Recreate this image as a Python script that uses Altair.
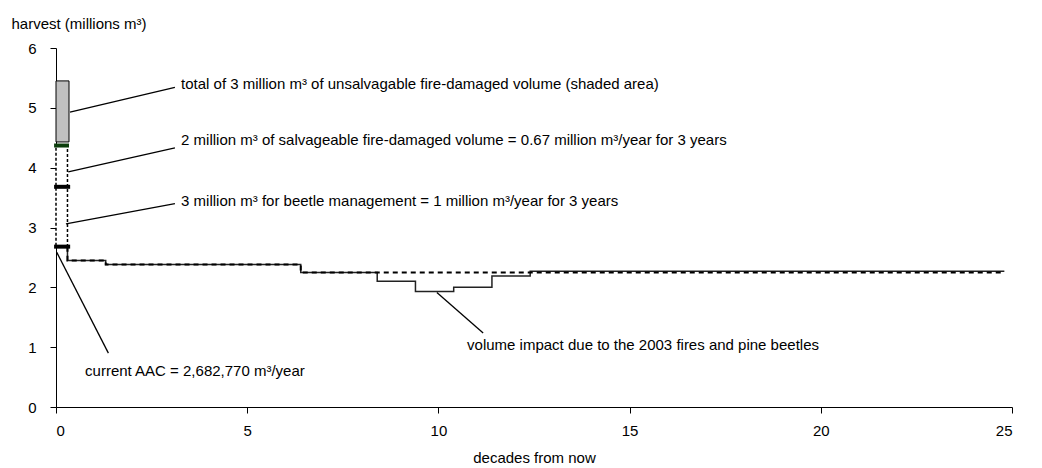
import altair as alt
import pandas as pd

FONT = "Liberation Sans"

# ---- data ----
step_x = [0.3, 0.3, 1.3, 6.4, 8.4, 9.4, 10.4, 11.4, 12.4, 24.8]
impact_y = [2.68, 2.45, 2.38, 2.25, 2.10, 1.93, 2.00, 2.19, 2.27, 2.27]
base_y = [2.68, 2.45, 2.38, 2.25, 2.25, 2.25, 2.25, 2.25, 2.25, 2.25]

current_aac = 2.68
beetle_top = 3.68
salvage_top = 4.37
unsalv_bottom = 4.43
unsalv_top = 5.45
pulse_start = 0.0
pulse_end = 0.3
pulse_end_wide = 0.34

labels = [
    "total of 3 million m³ of unsalvagable fire-damaged volume (shaded area)",
    "2 million m³ of salvageable fire-damaged volume = 0.67 million m³/year for 3 years",
    "3 million m³ for beetle management = 1 million m³/year for 3 years",
    "current AAC = 2,682,770 m³/year",
    "volume impact due to the 2003 fires and pine beetles",
]
label_x = [3.27, 3.27, 3.27, 0.76, 10.75]
label_y = [5.39, 4.455, 3.44, 0.61, 1.04]
leader_x = [0.366, 0.32, 0.26, 0.02, 9.96]
leader_y = [4.93, 3.93, 3.06, 2.585, 1.915]
leader_x2 = [3.11, 3.11, 3.11, 1.37, 11.17]
leader_y2 = [5.34, 4.33, 3.40, 0.90, 1.235]

# ---- tables ----
steps = pd.DataFrame({"i": list(range(len(step_x))), "x": step_x,
                      "impact": impact_y, "base": base_y})
white_box = pd.DataFrame({"x": [pulse_start], "x2": [pulse_end],
                          "y": [current_aac], "y2": [salvage_top]})
gray_box = pd.DataFrame({"x": [pulse_start], "x2": [pulse_end_wide],
                         "y": [unsalv_bottom], "y2": [unsalv_top]})
black_rules = pd.DataFrame({"x": [-0.05, -0.05], "x2": [0.37, 0.37],
                            "y": [current_aac, beetle_top]})
green_rule = pd.DataFrame({"x": [-0.05], "x2": [0.34], "y": [salvage_top]})
ann = pd.DataFrame({"label": labels, "lx": label_x, "ly": label_y,
                    "x": leader_x, "y": leader_y, "x2": leader_x2, "y2": leader_y2})

xs = alt.Scale(domain=[0, 25], nice=False, zero=False)
ys = alt.Scale(domain=[0, 6], nice=False)

x_axis = alt.Axis(values=[0, 5, 10, 15, 20, 25], title="decades from now",
                  grid=False, tickSize=6, labelPadding=10, titlePadding=12,
                  domainColor="black", tickColor="black", labelColor="black",
                  titleColor="black", labelFont=FONT, titleFont=FONT,
                  labelFontSize=15, titleFontSize=15, titleFontWeight="normal")
y_axis = alt.Axis(values=[i * 0.5 for i in range(13)],
                  labelExpr="datum.value % 1 === 0 ? format(datum.value, 'd') : ''",
                  title="harvest (millions m³)", grid=False, tickSize=6,
                  labelPadding=14, domainColor="black", tickColor="black",
                  labelColor="black", titleColor="black", labelFont=FONT,
                  titleFont=FONT, labelFontSize=15, titleFontSize=15,
                  titleFontWeight="normal", titleAngle=0, titleAlign="left",
                  titleBaseline="middle", titleX=-45, titleY=-25)

base = alt.Chart(steps)

white = alt.Chart(white_box).mark_rect(fill="white", stroke="black",
                                       strokeWidth=1.5, strokeDash=[3, 2]).encode(
    x=alt.X("x:Q", scale=xs, axis=x_axis), x2="x2:Q",
    y=alt.Y("y:Q", scale=ys, axis=y_axis), y2="y2:Q")

gray = alt.Chart(gray_box).mark_rect(fill="#c0c0c0", stroke="black",
                                     strokeWidth=1).encode(
    x=alt.X("x:Q", scale=xs), x2="x2:Q", y=alt.Y("y:Q", scale=ys), y2="y2:Q")

impact_line = base.mark_line(interpolate="step-after", color="#222222",
                             strokeWidth=1.5).encode(
    x=alt.X("x:Q", scale=xs), y=alt.Y("impact:Q", scale=ys), order="i:Q")

base_line = base.mark_line(interpolate="step-after", color="black",
                           strokeWidth=2, strokeDash=[5, 4]).encode(
    x=alt.X("x:Q", scale=xs), y=alt.Y("base:Q", scale=ys), order="i:Q")

blk = alt.Chart(black_rules).mark_rule(color="black", strokeWidth=4).encode(
    x=alt.X("x:Q", scale=xs), x2="x2:Q", y=alt.Y("y:Q", scale=ys))

grn = alt.Chart(green_rule).mark_rule(color="#0b3d0b", strokeWidth=4).encode(
    x=alt.X("x:Q", scale=xs), x2="x2:Q", y=alt.Y("y:Q", scale=ys))

leaders = alt.Chart(ann).mark_rule(color="black", strokeWidth=1.3).encode(
    x=alt.X("x:Q", scale=xs), y=alt.Y("y:Q", scale=ys), x2="x2:Q", y2="y2:Q")

texts = alt.Chart(ann).mark_text(align="left", baseline="middle", font=FONT,
                                 fontSize=15, color="black").encode(
    x=alt.X("lx:Q", scale=xs), y=alt.Y("ly:Q", scale=ys), text="label:N")

chart = alt.layer(white, gray, impact_line, base_line, blk, grn, leaders, texts).properties(
    width=956, height=359,
    autosize=alt.AutoSizeParams(type="none"),
    padding={"left": 48, "top": 40, "right": 22, "bottom": 60},
    background="white",
).configure_view(stroke=None)

chart.save("out.html", embed_options={"renderer": "svg", "actions": False})
